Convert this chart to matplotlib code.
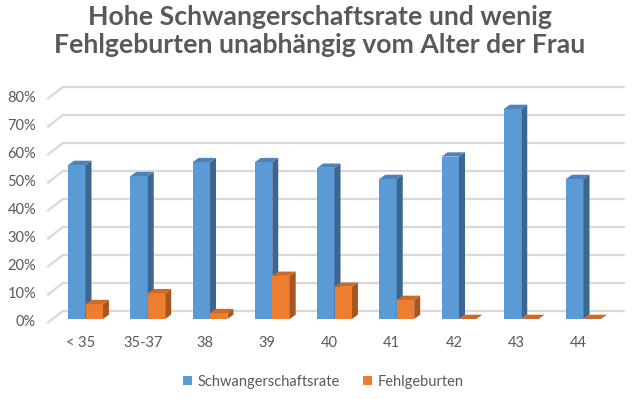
import matplotlib
matplotlib.use("Agg")
import matplotlib.pyplot as plt
from matplotlib.patches import Polygon, Patch
from matplotlib.transforms import ScaledTranslation

categories = ["< 35", "35-37", "38", "39", "40", "41", "42", "43", "44"]
schwanger = [55, 51, 56, 56, 54, 50, 58, 75, 50]
fehlgeburten = [5.3, 9.2, 2.1, 15.4, 11.5, 6.8, 0, 0, 0]
yticks = [0, 10, 20, 30, 40, 50, 60, 70, 80]
ytick_labels = [f"{t}%" for t in yticks]
series_names = ["Schwangerschaftsrate", "Fehlgeburten"]

W, H, DPI = 640, 399, 100
FONT = "Lato"
GRAY = "#595959"
GRID = "#D9D9D9"
face = ["#5B9BD5", "#ED7D31"]
side = ["#3A6691", "#A9561E"]
top = ["#4C83BA", "#CC6A27"]

fig = plt.figure(figsize=(W / DPI, H / DPI), dpi=DPI)

# back wall geometry (pixels)
bw_left, bw_right, bw_top, bw_bottom = 63, 625, 87, 311
ax = fig.add_axes([bw_left / W, (H - bw_bottom) / H,
                   (bw_right - bw_left) / W, (bw_bottom - bw_top) / H])
px_per_cat = 62.25
x0 = -(85.5 - bw_left) / px_per_cat
ax.set_xlim(x0, x0 + (bw_right - bw_left) / px_per_cat)
ax.set_ylim(0, 80)
ax.axis("off")
px_per_pct = (bw_bottom - bw_top) / 80.0

def dpx(x, y):
    return ScaledTranslation(x / DPI, -y / DPI, fig.dpi_scale_trans)

# gridlines: back wall + left side diagonal
diag_dx, diag_dy = -15, 11.5
for t in yticks:
    ax.plot([x0, ax.get_xlim()[1]], [t, t], color=GRID, lw=1.6, zorder=1,
            clip_on=False, solid_capstyle="butt")
    ax.plot([x0, x0 + diag_dx / px_per_cat], [t, t - diag_dy / px_per_pct],
            color=GRID, lw=1.6, zorder=1, clip_on=False)

# y tick labels at front-left
for t, lab in zip(yticks, ytick_labels):
    ax.text(x0, t, lab, transform=ax.transData + dpx(-27, 11), ha="right",
            va="center", fontsize=10.5, color=GRAY, family=FONT)

# bars (pseudo 3D)
bar_tr = ax.transData + dpx(0, 8)
w = 0.28
ddx = 6 / px_per_cat
ddy = 4.3 / px_per_pct
for s, vals in enumerate([schwanger, fehlgeburten]):
    for i, v in enumerate(vals):
        xl = i - w + s * w
        xr = xl + w
        z = 3 + i * 0.01 + s * 0.5
        ax.add_patch(Polygon([(xl, 0), (xr, 0), (xr, v), (xl, v)], closed=True,
                             facecolor=face[s], edgecolor="none",
                             transform=bar_tr, zorder=z, clip_on=False))
        ax.add_patch(Polygon([(xr, 0), (xr + ddx, ddy), (xr + ddx, v + ddy), (xr, v)],
                             closed=True, facecolor=side[s], edgecolor="none",
                             transform=bar_tr, zorder=z, clip_on=False))
        ax.add_patch(Polygon([(xl, v), (xr, v), (xr + ddx, v + ddy), (xl + ddx, v + ddy)],
                             closed=True, facecolor=top[s], edgecolor="none",
                             transform=bar_tr, zorder=z, clip_on=False))

# category labels
for i, c in enumerate(categories):
    ax.text(i, 0, c, transform=ax.transData + dpx(-5, 32), ha="center",
            va="center", fontsize=10.5, color=GRAY, family=FONT)

# title
fig.text(0.5, 1 - 31 / H, "Hohe Schwangerschaftsrate und wenig\nFehlgeburten unabhängig vom Alter der Frau",
         ha="center", va="center", fontsize=19.2, fontweight="bold",
         color=GRAY, family=FONT, linespacing=1.22)

# legend
handles = [Patch(facecolor=face[k], edgecolor="none") for k in range(2)]
leg = fig.legend(handles, series_names, loc="center",
                 bbox_to_anchor=(0.505, 1 - 382 / H), ncol=2, frameon=False,
                 handlelength=0.6, handleheight=0.6, handletextpad=0.4,
                 columnspacing=1.6, prop={"family": FONT, "size": 10.5})
for txt in leg.get_texts():
    txt.set_color(GRAY)

fig.savefig("out.png", dpi=DPI, facecolor="white")
